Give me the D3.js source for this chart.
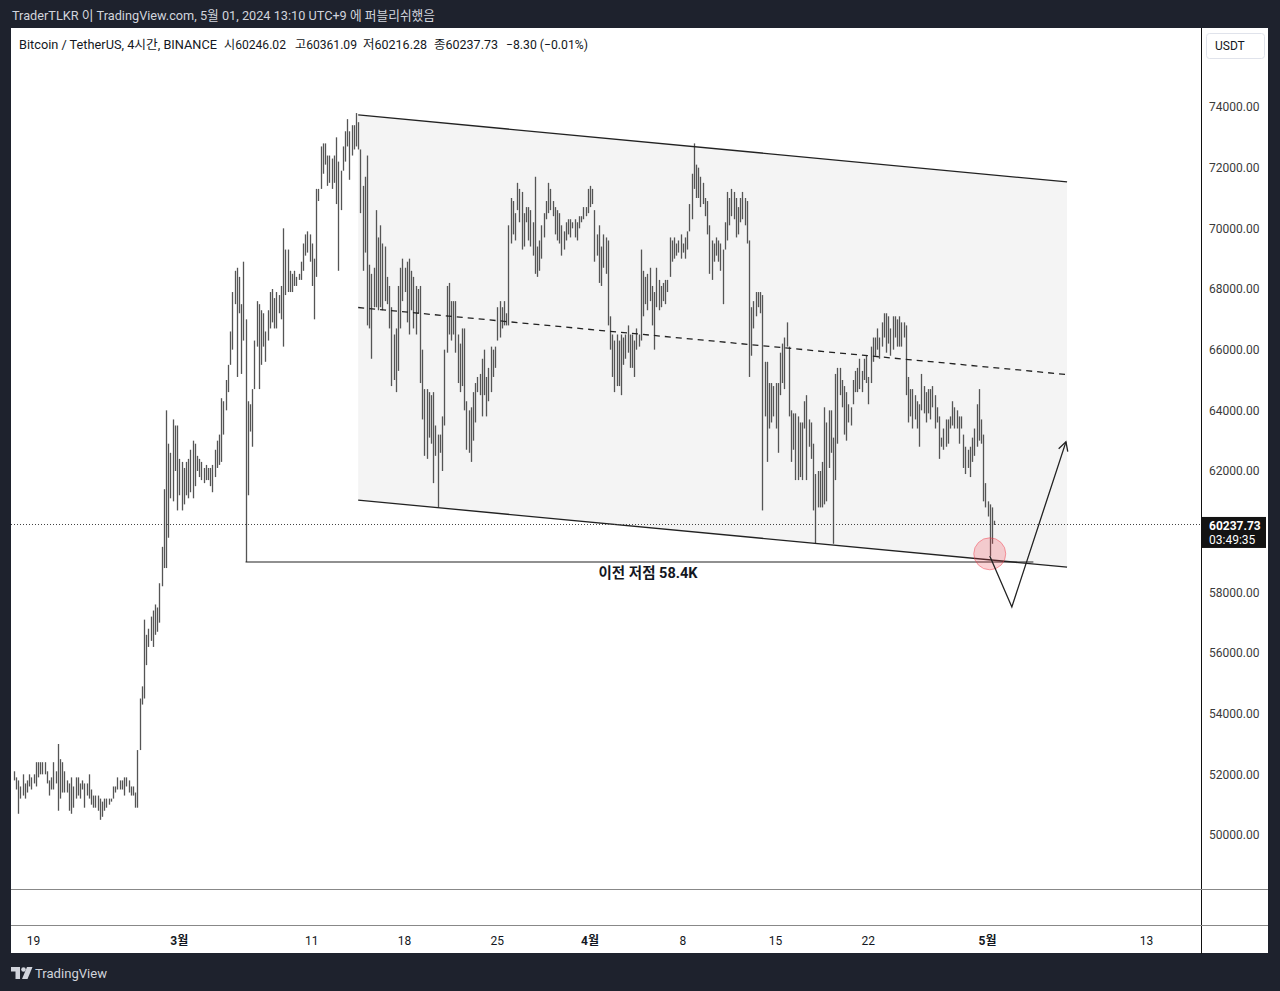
<!DOCTYPE html>
<meta charset="utf-8">
<style>
  body { margin: 0; background: #1e222d; }
  svg { display: block; }
  text { font-family: Roboto, "Noto Sans CJK KR", sans-serif; }
</style>
<body>
<script src="https://cdn.jsdelivr.net/npm/d3@7"></script>
<script>
// BTC/USDT 4h bars, chart time is UTC+9 (kept as wall clock in UTC)
var firstBar = Date.UTC(2024, 1, 17, 13);
var barStep = 4 * 3600 * 1000;

// [high, low] in thousand USDT, one entry per 4h bar
var hiLo = [
  [52.1,51.8],[51.9,51.5],[51.8,50.7],[51.6,51.2],[52.0,51.3],[51.7,51.2],[51.8,51.4],[52.0,51.6],[51.9,51.5],[52.0,51.7],
  [52.4,51.6],[52.4,51.9],[52.4,52.0],[52.4,52.0],[52.4,52.0],[52.1,51.7],[51.8,51.3],[51.9,51.5],[52.4,51.5],[52.1,51.7],
  [53.0,50.8],[52.5,51.2],[52.4,51.4],[52.1,51.4],[51.8,51.4],[51.7,50.8],[51.9,50.7],[51.6,50.9],[51.9,51.2],[51.9,51.3],
  [51.7,51.2],[51.8,51.5],[51.7,50.9],[51.7,51.3],[52.0,51.2],[51.5,51.0],[51.3,50.9],[51.3,50.9],[51.3,50.8],[51.2,50.5],
  [51.1,50.6],[51.2,50.8],[51.2,50.9],[51.2,51.0],[51.2,51.1],[51.6,51.2],[51.6,51.4],[51.9,51.5],[51.8,51.5],[51.8,51.5],
  [51.9,51.3],[51.9,51.6],[51.8,51.4],[51.6,51.3],[51.6,51.3],[51.4,50.9],[52.8,50.9],
  [54.5,52.8],[54.9,54.3],[57.1,54.5],[56.6,55.6],[56.8,56.2],[57.2,56.4],[57.4,56.2],[57.6,56.6],[57.5,56.7],[58.3,57.0],
  [59.5,58.2],[61.4,58.8],[64.0,58.8],
  [62.9,59.8],[62.6,61.1],[63.7,61.0],[63.5,62.0],[63.5,60.7],[62.4,61.2],[62.3,60.7],[62.1,60.9],[62.3,61.2],[62.4,61.1],
  [62.7,61.3],[63.0,61.1],[62.9,61.5],[62.5,62.0],[62.4,61.8],[62.3,61.7],[62.1,61.6],[62.2,61.7],[62.1,61.7],[62.1,61.5],
  [62.2,61.3],[62.7,61.8],[63.0,62.1],[63.2,62.2],[64.4,62.3],[64.3,63.2],[65.0,64.0],[65.5,64.6],[66.6,65.5],[67.9,66.0],
  [68.6,67.5],[68.7,65.1],[68.4,67.2],[67.5,65.2],[68.9,66.3],[67.0,59.0],
  [64.3,61.2],[64.2,63.3],[64.7,62.8],[66.3,64.7],[67.6,66.1],[67.5,64.7],[67.3,65.5],[67.2,66.1],[66.6,65.6],[67.3,66.3],
  [67.9,66.7],[68.0,66.9],[67.7,66.7],[67.9,66.7],[67.8,67.2],[68.1,67.0],[70.0,66.1],
  [69.3,67.8],[69.3,67.9],[68.6,67.9],[68.5,67.9],[68.6,68.1],[68.4,68.1],[68.5,68.3],[68.9,68.3],[69.5,68.6],[69.8,69.1],
  [69.9,69.2],[69.8,68.9],[69.5,68.1],[69.0,67.0],[71.3,68.4],[71.3,70.9],[72.7,71.3],[72.8,71.8],[72.8,72.1],[72.4,71.4],
  [72.4,71.5],[72.3,71.3],[72.4,71.5],[73.0,70.8],
  [72.2,68.6],[71.9,70.6],[72.7,71.9],[73.2,72.2],[73.6,72.7],[73.2,71.6],
  [73.4,72.4],[73.4,72.6],[73.8,72.7],[73.5,72.6],[72.6,70.5],[71.4,68.6],[71.7,69.2],[72.4,66.8],[68.8,66.7],[68.5,65.7],
  [68.7,67.4],[70.6,67.4],[69.7,67.3],[70.1,67.4],[69.5,67.3],[69.4,67.6],[68.4,67.5],[68.1,66.7],[67.4,64.8],[66.5,65.0],
  [66.7,64.6],[68.1,65.3],[68.7,66.7],[69.0,67.6],[68.7,67.9],[68.9,66.9],[69.0,66.5],[68.6,67.3],[68.4,66.7],[68.1,66.5],
  [68.0,67.2],[68.1,64.9],[66.0,63.7],[64.7,62.5],[64.7,62.4],[64.6,63.1],[64.5,62.9],[64.6,61.6],[63.5,62.5],[63.2,60.8],
  [63.2,62.6],[63.8,62.0],[66.0,63.5],[68.1,65.9],[68.2,66.5],[67.6,66.3],[67.6,66.5],[67.6,65.9],[66.5,64.9],[66.2,64.6],
  [66.7,64.8],[66.7,64.0],[64.3,62.7],[64.0,62.6],[64.1,62.3],[64.6,63.0],[64.9,63.6],[65.1,64.6],[65.2,64.5],[65.7,63.8],
  [66.0,64.5],[65.1,63.8],[65.4,64.3],[66.1,64.6],[66.0,65.1],[66.1,65.4],[67.4,66.3],[67.6,66.4],[67.4,66.7],[67.6,66.8],
  [67.2,66.8],[70.1,66.8],
  [71.0,69.5],[70.9,69.8],[70.5,69.6],[71.5,70.6],[71.3,70.2],[71.2,69.3],[70.5,69.4],[70.7,70.2],[70.7,69.6],[70.6,69.4],
  [70.2,69.1],[71.7,68.5],
  [69.4,68.4],[69.6,68.6],[70.1,69.0],[70.5,69.7],[70.9,70.3],[71.5,70.5],[71.3,70.6],[70.9,70.4],[70.7,69.8],[70.6,69.6],
  [70.5,69.5],[70.1,69.1],[69.9,69.3],[70.2,69.6],[70.3,69.8],[70.3,69.7],[70.2,70.0],[70.3,69.7],[70.2,69.6],[70.4,70.0],
  [70.4,70.2],[70.7,70.3],[70.7,70.4],[71.3,70.5],[71.4,70.7],[71.3,70.8],[70.6,68.9],[69.8,69.1],[70.1,68.2],[69.4,68.1],
  [69.8,68.7],[69.7,68.5],[69.6,66.8],
  [67.1,66.0],[66.5,65.1],[66.3,64.6],[66.5,64.8],[66.3,64.8],[66.5,64.5],[66.4,65.5],[66.5,65.7],[66.8,65.9],[66.5,65.4],
  [66.5,65.4],[66.3,65.1],[66.7,66.0],[66.5,66.1],[69.3,66.3],
  [68.6,67.1],[68.4,67.5],[68.5,67.3],[68.7,67.6],[68.1,66.8],[67.9,66.0],[68.7,67.4],[68.3,67.3],[68.1,67.4],[68.2,67.6],
  [68.3,67.5],[68.3,67.9],[69.7,68.4],[69.6,68.9],[69.7,69.0],[69.5,69.1],[69.6,69.2],
  [69.8,69.0],[69.5,69.2],[69.7,69.0],[69.9,69.3],[70.8,69.9],[71.8,70.3],[72.8,71.3],
  [72.1,71.0],[72.0,71.0],[71.7,70.7],[71.5,70.8],[71.0,70.4],[70.9,69.8],[70.1,68.5],[69.6,68.3],[69.5,68.9],[69.7,69.1],
  [69.6,68.9],[69.5,68.6],[69.3,67.5],[70.2,69.3],[71.2,69.6],[71.0,70.1],[71.3,70.4],[71.2,70.3],[71.0,69.7],[70.7,69.8],
  [71.0,70.2],[71.2,70.3],[71.0,70.1],[70.9,69.5],[69.6,65.1],
  [67.4,65.8],[67.6,66.7],[67.9,67.1],[67.9,67.4],[67.9,67.2],[67.8,60.7],
  [65.6,63.8],[65.6,62.3],[64.9,63.4],[64.9,63.6],[64.8,63.8],[64.9,63.4],[64.9,62.6],[65.9,64.5],[66.2,64.9],[66.4,64.7],
  [66.9,66.1],[66.1,63.8],[64.0,62.3],[63.9,62.7],[63.9,61.7],[63.8,61.7],[63.6,61.8],[63.6,61.7],[64.3,63.4],[64.5,61.7],
  [63.7,62.8],[63.6,62.4],[62.9,60.7],[61.9,59.6],
  [62.0,60.8],[62.0,60.8],[62.3,60.8],[64.1,60.9],[63.6,61.0],[64.0,62.1],[64.0,62.6],[63.1,59.6],
  [65.2,61.7],[65.4,62.9],[65.4,64.5],[65.0,64.1],[64.8,63.2],[64.6,63.0],[64.2,63.6],[64.1,63.5],[65.0,64.2],[65.3,64.6],
  [65.4,64.6],[65.7,64.7],[65.3,64.6],[65.7,65.0],[65.8,64.9],[65.1,64.2],[66.1,64.9],[66.4,65.6],[66.4,65.8],[66.7,66.0],
  [66.4,65.7],[66.9,66.1],[67.2,66.4],[67.2,65.9],[67.1,66.2],[66.7,65.8],[67.1,66.0],[67.1,66.4],[67.0,66.1],[67.1,66.1],
  [66.9,66.1],[66.9,66.4],[66.8,64.5],
  [65.1,63.6],[64.7,63.8],[64.7,63.4],[64.5,63.7],[64.3,63.4],[64.2,62.8],[65.2,64.0],[64.8,63.9],[64.6,63.6],[64.7,63.9],
  [64.7,63.7],[64.8,64.1],[64.5,63.4],[64.1,63.6],[63.8,62.4],[63.1,62.8],[63.4,62.7],[63.7,62.8],[63.7,62.9],[63.8,63.4],
  [64.3,63.5],[64.1,63.4],[64.0,63.4],[63.8,62.9],[63.8,63.4],[63.2,62.1],[62.8,61.9],[62.7,62.1],[62.8,61.8],[63.1,62.3],
  [63.4,62.5],[64.2,62.8],[64.7,63.0],
  [63.7,62.9],[63.2,61.0],[61.6,60.8],[61.0,60.5],[60.9,59.2],[60.8,59.6],[60.36,60.22]
];

var lastPrice = 60237.73;
var priceTicks = [50000, 52000, 54000, 56000, 58000, 62000, 64000, 66000, 68000, 70000, 72000, 74000];
var tickDates = ["2024-02-19", "2024-03-01", "2024-03-11", "2024-03-18", "2024-03-25", "2024-04-01",
                 "2024-04-08", "2024-04-15", "2024-04-22", "2024-05-01", "2024-05-13"];
var tickLabels = ["19", "3월", "11", "18", "25", "4월", "8", "15", "22", "5월", "13"];

// drawings on the chart
var channelTop = [["2024-03-14T13:00", 73740], ["2024-05-07T01:00", 71530]];
var channelBottom = [["2024-03-14T13:00", 61040], ["2024-05-07T01:00", 58830]];
var prevLow = [["2024-03-06T01:00", 59000], ["2024-05-04T12:00", 59000]];
var projection = [["2024-05-01T05:00", 59200], ["2024-05-02T21:00", 57520], ["2024-05-06T23:00", 62960]];
var touchPoint = ["2024-05-01T05:00", 59270];
var prevLowLabel = ["2024-04-05T10:00", 59000, "이전 저점 58.4K"];

var W = 1280, H = 991;
var plotL = 11, plotR = 1201, plotT = 29, plotB = 889;

var parseDay = d3.utcParse("%Y-%m-%d");
var parseT = d3.utcParse("%Y-%m-%dT%H:%M");

var x = d3.scaleUtc()
    .domain([Date.UTC(2024, 1, 19), Date.UTC(2024, 4, 13)])
    .range([33, 1146]);
var y = d3.scaleLinear()
    .domain([50000, 74000])
    .range([835, 107]);

var svg = d3.select("body").append("svg")
    .attr("width", W)
    .attr("height", H);

// white panel
svg.append("rect").attr("x", 11).attr("y", 28).attr("width", 1257).attr("height", 925).attr("fill", "#fff");

svg.append("text")
    .attr("x", 12).attr("y", 20)
    .attr("fill", "#d1d4dc").style("font-size", "12.8px")
    .attr("textLength", 423).attr("lengthAdjust", "spacingAndGlyphs")
    .text("TraderTLKR 이 TradingView.com, 5월 01, 2024 13:10 UTC+9 에 퍼블리쉬했음");

svg.append("clipPath").attr("id", "plot")
  .append("rect").attr("x", plotL).attr("y", plotT).attr("width", plotR - plotL).attr("height", plotB - plotT);

var plot = svg.append("g").attr("clip-path", "url(#plot)");

var pt = function(d) { return [x(parseT(d[0])), y(d[1])]; };
var line = d3.line().x(function(d) { return pt(d)[0]; }).y(function(d) { return pt(d)[1]; });

// channel background
var chan = channelTop.concat(channelBottom.slice().reverse());
plot.append("path").attr("d", line(chan) + "Z").attr("fill", "#f4f4f4");

// price bars
plot.append("g").selectAll("line")
    .data(hiLo)
    .enter().append("line")
    .attr("x1", function(d, i) { return Math.round(x(firstBar + i * barStep)) + 0.5; })
    .attr("x2", function(d, i) { return Math.round(x(firstBar + i * barStep)) + 0.5; })
    .attr("y1", function(d) { return y(d[0] * 1000); })
    .attr("y2", function(d) { return y(d[1] * 1000); })
    .attr("stroke", "#555")
    .attr("stroke-width", 1.3);

// channel lines
var midLine = [
  [channelTop[0][0], (channelTop[0][1] + channelBottom[0][1]) / 2],
  [channelTop[1][0], (channelTop[1][1] + channelBottom[1][1]) / 2]
];
plot.append("path").attr("d", line(channelTop)).attr("stroke", "#222").attr("stroke-width", 1.3).attr("fill", "none");
plot.append("path").attr("d", line(channelBottom)).attr("stroke", "#222").attr("stroke-width", 1.3).attr("fill", "none");
plot.append("path").attr("d", line(midLine)).attr("stroke", "#222").attr("stroke-width", 1.3)
    .attr("stroke-dasharray", "6,5").attr("fill", "none");

// previous low line + label
plot.append("path").attr("d", line(prevLow)).attr("stroke", "#222").attr("stroke-width", 1.2).attr("fill", "none");
plot.append("text")
    .attr("x", x(parseT(prevLowLabel[0]))).attr("y", y(prevLowLabel[1]) + 16)
    .attr("text-anchor", "middle")
    .attr("fill", "#131722").style("font-size", "14.5px").style("font-weight", "bold")
    .text(prevLowLabel[2]);

// last price dotted line
plot.append("line")
    .attr("x1", plotL).attr("x2", plotR)
    .attr("y1", Math.round(y(lastPrice)) + 0.5).attr("y2", Math.round(y(lastPrice)) + 0.5)
    .attr("stroke", "#444").attr("stroke-dasharray", "1,2");

// touch circle
plot.append("circle")
    .attr("cx", pt(touchPoint)[0]).attr("cy", pt(touchPoint)[1]).attr("r", 16)
    .attr("fill", "rgba(242,54,69,0.22)").attr("stroke", "rgba(242,54,69,0.45)");

// projected path with arrow head
plot.append("path").attr("d", line(projection)).attr("stroke", "#222").attr("stroke-width", 1.3).attr("fill", "none");
var a = pt(projection[1]), b = pt(projection[2]);
var ang = Math.atan2(b[1] - a[1], b[0] - a[0]);
var head = [ang + Math.PI - 0.5, ang + Math.PI + 0.5].map(function(t) {
  return [b[0] + 10 * Math.cos(t), b[1] + 10 * Math.sin(t)];
});
plot.append("path")
    .attr("d", "M" + head[0] + "L" + b + "L" + head[1])
    .attr("stroke", "#222").attr("stroke-width", 1.3).attr("fill", "none");

// legend
var legend = [
  [19, "Bitcoin / TetherUS, 4시간, BINANCE", 198],
  [224, "시60246.02", 62], [295, "고60361.09", 62], [363, "저60216.28", 64], [434, "종60237.73", 64],
  [506, "−8.30 (−0.01%)", 82]
];
svg.append("g").selectAll("text").data(legend).enter().append("text")
    .attr("x", function(d) { return d[0]; }).attr("y", 48.5)
    .attr("fill", "#131722").style("font-size", "12.5px")
    .attr("textLength", function(d) { return d[2]; }).attr("lengthAdjust", "spacingAndGlyphs")
    .text(function(d) { return d[1]; });

// frame lines
svg.append("line").attr("x1", 1201.5).attr("x2", 1201.5).attr("y1", 28).attr("y2", 954).attr("stroke", "#111");
svg.append("line").attr("x1", 11).attr("x2", 1268).attr("y1", 889.5).attr("y2", 889.5).attr("stroke", "#888");
svg.append("line").attr("x1", 11).attr("x2", 1268).attr("y1", 925.5).attr("y2", 925.5).attr("stroke", "#888");

// price axis
var yAxis = svg.append("g")
    .attr("transform", "translate(1203,0)")
    .call(d3.axisRight(y).tickValues(priceTicks).tickFormat(d3.format(".2f")).tickSize(0).tickPadding(6));
yAxis.select(".domain").remove();
yAxis.selectAll("text").attr("fill", "#3a3a3a").style("font-size", "12px").style("font-family", "Roboto, sans-serif");

// currency box
svg.append("rect").attr("x", 1206.5).attr("y", 33.5).attr("width", 58).attr("height", 25).attr("rx", 3)
    .attr("fill", "#fff").attr("stroke", "#e0e3eb");
svg.append("text").attr("x", 1215).attr("y", 50).attr("fill", "#131722").style("font-size", "12px").text("USDT");

// last price label
var ly = y(lastPrice);
svg.append("rect").attr("x", 1202).attr("y", ly - 7.5).attr("width", 64).attr("height", 31).attr("fill", "#131313");
svg.append("text").attr("x", 1209).attr("y", ly + 6).attr("fill", "#fff")
    .style("font-size", "12px").style("font-weight", "bold").text(d3.format(".2f")(lastPrice));
svg.append("text").attr("x", 1209).attr("y", ly + 19.5).attr("fill", "#fff")
    .style("font-size", "12px").text("03:49:35");

// time axis
var xAxis = svg.append("g")
    .attr("transform", "translate(0,926)")
    .call(d3.axisBottom(x)
      .tickValues(tickDates.map(parseDay))
      .tickFormat(function(d, i) { return tickLabels[i]; })
      .tickSize(0).tickPadding(10));
xAxis.select(".domain").remove();
xAxis.selectAll("text")
    .attr("fill", "#131722").style("font-size", "12px").style("font-family", "Roboto, 'Noto Sans CJK KR', sans-serif")
    .style("font-weight", function(d, i) { return /월/.test(tickLabels[i]) ? "bold" : "normal"; });

// footer logo
var logo = svg.append("g").attr("fill", "#d1d4dc");
logo.append("path").attr("d", "M11 967h9v12h-4.5v-7.5H11z");
logo.append("circle").attr("cx", 23.5).attr("cy", 969.5).attr("r", 2.3);
logo.append("path").attr("d", "M27 967h5.5l-5 12h-5.5z");
svg.append("text").attr("x", 35).attr("y", 978).attr("fill", "#d1d4dc").style("font-size", "13.5px")
    .attr("textLength", 72).attr("lengthAdjust", "spacingAndGlyphs").text("TradingView");
</script>
</body>
